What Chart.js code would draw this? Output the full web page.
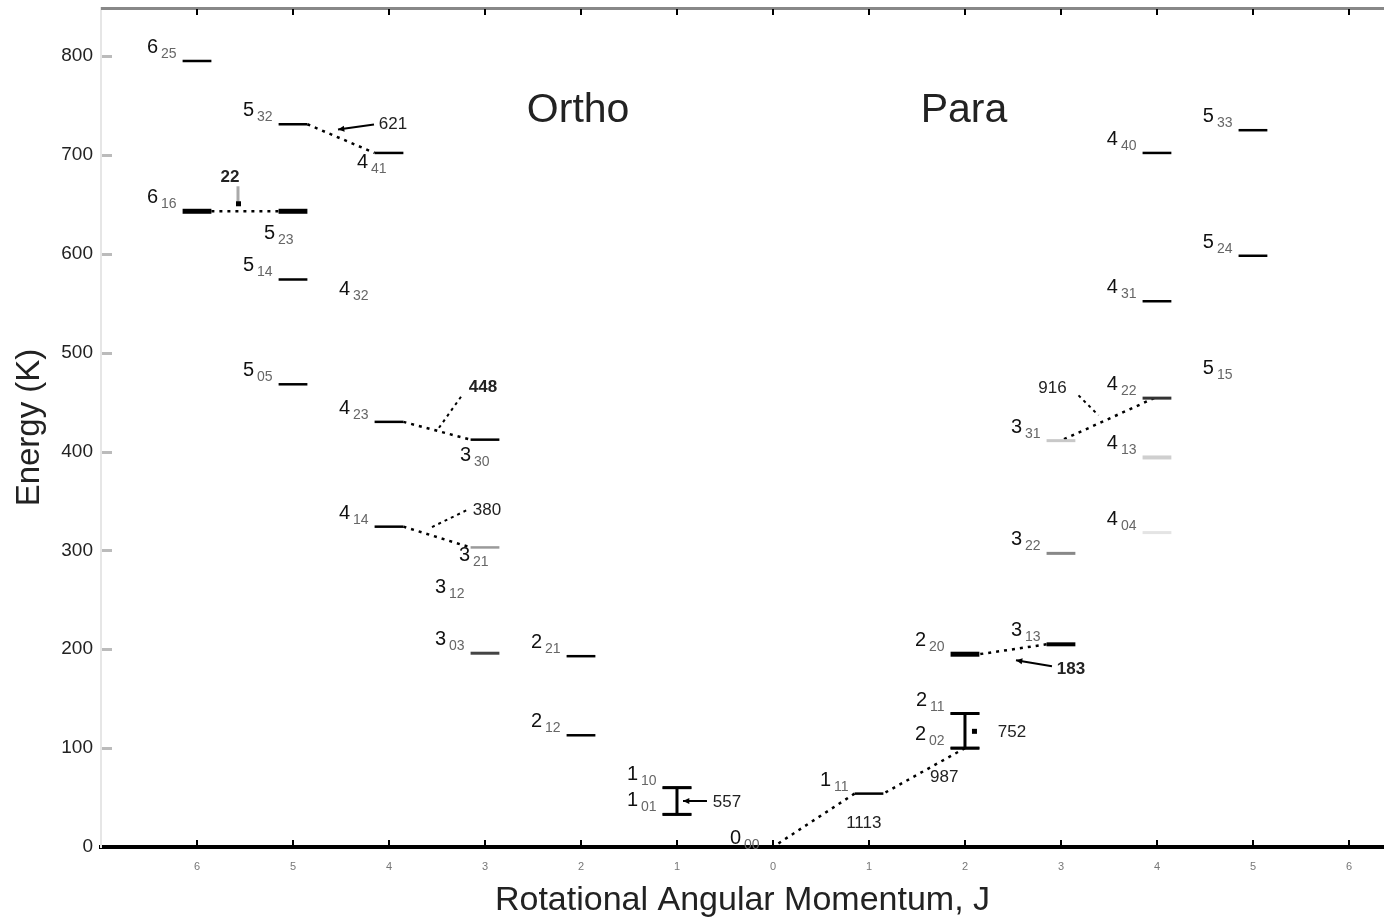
<!DOCTYPE html>
<html>
<head>
<meta charset="utf-8">
<script src="https://cdn.jsdelivr.net/npm/chart.js@4.4.1/dist/chart.umd.min.js"></script>
<style>
  html, body { margin: 0; padding: 0; background: #fff; }
  #wrap { width: 1384px; height: 918px; }
</style>
</head>
<body>
<div id="wrap"><canvas id="levels" width="1384" height="918"></canvas></div>
<script>
// rotational levels J_KaKc and their energy in K
const orthoLevels = ['1_01', '1_10', '2_12', '2_21', '3_03', '3_12', '3_21', '3_30', '4_14',
                     '4_23', '4_32', '4_41', '5_05', '5_14', '5_23', '5_32', '6_16', '6_25'];
const orthoEnergy = [33, 60, 113, 193, 196, 249, 303, 412, 324, 430, 550, 702, 468, 574, 643, 731, 643, 795];

const paraLevels = ['0_00', '1_11', '2_02', '2_11', '2_20', '3_13', '3_22', '3_31',
                    '4_04', '4_13', '4_22', '4_31', '4_40', '5_15', '5_24', '5_33'];
const paraEnergy = [0, 54, 100, 135, 195, 205, 297, 411, 318, 394, 454, 552, 702, 470, 598, 725];

// marked transitions (upper -> lower) with frequency in GHz
const transUpper = ['5_32', '6_16', '4_23', '4_14', '1_10', '1_11', '2_02', '2_11', '3_13', '4_22'];
const transLower = ['4_41', '5_23', '3_30', '3_21', '1_01', '0_00', '1_11', '2_02', '2_20', '3_31'];
const transFreq  = ['621', '22', '448', '380', '557', '1113', '987', '752', '183', '916'];

const energyTicks = [0, 100, 200, 300, 400, 500, 600, 700, 800];
const jTicks = [-6, -5, -4, -3, -2, -1, 0, 1, 2, 3, 4, 5, 6];

// ---- styling ----
const FONT = '"Liberation Sans", Arial, sans-serif';
const HALF = 0.15; // half length of a level bar, in J units
const hidden = ['0_00', '3_12', '4_32', '5_15'];
const lineColor = { '3_21': '#9a9a9a', '3_03': '#444', '3_22': '#888', '3_31': '#c8c8c8',
                    '4_22': '#333', '4_13': '#cfcfcf', '4_04': '#e4e4e4' };
const lineWidth = { '6_16': 5, '5_23': 5, '2_20': 5, '3_13': 4, '3_03': 3, '3_22': 3,
                    '3_31': 3, '4_13': 4, '4_04': 3, '4_22': 3 };
// label offset (px) of the label's right edge / baseline from the bar's left end
const labelShift = { '3_30': [19, 21], '3_21': [18, 14], '5_23': [15, 28], '4_41': [12, 15], '0_00': [1, -3] };

// how each transition is drawn: bar-end offsets in J units, text & leader offsets in px from the middle
const transLayout = {
  '621':  { from: HALF, to: -HALF, text: [52, -14], lead: [[-3, -9], [33, -14]], arrow: true },
  '22':   { from: HALF, to: -HALF, text: [-15, -34], bold: true, lead: [[-7, -8], [-7, -25]], color: '#aaa', width: 3, dot: true },
  '448':  { from: HALF, to: -HALF, text: [46, -43], bold: true, lead: [[2, -3], [24, -34]], dash: true },
  '380':  { from: HALF, to: -HALF, text: [50, -27], lead: [[-5, -10], [30, -27]], dash: true },
  '557':  { bracket: true, text: [50, 1], lead: [[6, 0], [30, 0]], arrow: true },
  '1113': { from: -HALF, to: 0, text: [50, 3] },
  '987':  { from: 0, to: HALF, text: [20, 6] },
  '752':  { bracket: true, text: [47, 1], dot: true, lead: [[9, 0], [9, 0]] },
  '183':  { from: -HALF, to: HALF, text: [58, 20], bold: true, lead: [[3, 11], [39, 17]], arrow: true },
  '916':  { from: -0.03, to: 0, text: [-55, -31], lead: [[-29, -24], [-9, -4]], dash: true }
};

function side(names, energies, sign) {
  return names.map((n, i) => ({ name: n, j: sign * parseInt(n[0], 10), e: energies[i] }));
}
const levels = side(orthoLevels, orthoEnergy, -1).concat(side(paraLevels, paraEnergy, 1));
const byName = {};
levels.forEach(l => { byName[l.name] = l; });

const datasets = [];
levels.forEach(l => {
  if (hidden.includes(l.name)) return;
  datasets.push({
    data: [{ x: l.j - HALF, y: l.e }, { x: l.j + HALF, y: l.e }],
    borderColor: lineColor[l.name] || '#000',
    borderWidth: lineWidth[l.name] || 2.5
  });
});

transFreq.forEach((f, i) => {
  const up = byName[transUpper[i]], lo = byName[transLower[i]], t = transLayout[f];
  if (t.bracket) {
    datasets.push({ data: [{ x: up.j, y: up.e }, { x: lo.j, y: lo.e }], borderColor: '#000', borderWidth: 3 });
    [up, lo].forEach(l => datasets.push({
      data: [{ x: l.j - HALF, y: l.e }, { x: l.j + HALF, y: l.e }], borderColor: '#000', borderWidth: 3 }));
  } else {
    datasets.push({
      data: [{ x: up.j + t.from, y: up.e }, { x: lo.j + t.to, y: lo.e }],
      borderColor: '#000', borderWidth: 2.5, borderDash: [3, 5]
    });
  }
});

datasets.forEach(d => { d.showLine = true; d.pointRadius = 0; d.fill = false; });

const extras = {
  id: 'extras',
  afterDatasetsDraw(chart) {
    const { ctx, chartArea: a } = chart;
    const sx = chart.scales.x, sy = chart.scales.y;
    ctx.save();

    // frame bits: top line, inner ticks
    ctx.fillStyle = '#888';
    ctx.fillRect(a.left, a.top - 1, a.right - a.left, 3);
    ctx.fillStyle = '#000';
    jTicks.forEach(v => {
      const px = Math.round(sx.getPixelForValue(v));
      ctx.fillRect(px - 1, a.bottom - 7, 2, 6);
      ctx.fillRect(px - 1, a.top + 1, 2, 6);
    });
    ctx.fillStyle = '#bbb';
    energyTicks.forEach(v => {
      if (v === 0) return;
      const py = Math.round(sy.getPixelForValue(v));
      ctx.fillRect(a.left + 1, py - 1, 10, 3);
    });

    // Ortho / Para headings
    ctx.fillStyle = '#222';
    ctx.font = '41px ' + FONT;
    ctx.textAlign = 'center';
    ctx.textBaseline = 'middle';
    ctx.fillText('Ortho', sx.getPixelForValue(-2.03), sy.getPixelForValue(745));
    ctx.fillText('Para', sx.getPixelForValue(1.99), sy.getPixelForValue(745));

    // level labels J with KaKc subscript
    ctx.textAlign = 'left';
    ctx.textBaseline = 'alphabetic';
    levels.forEach(l => {
      const [J, sub] = l.name.split('_');
      const shift = labelShift[l.name] || [-6, -8];
      const x0 = sx.getPixelForValue(l.j - HALF) + shift[0];
      const y0 = sy.getPixelForValue(l.e) + shift[1];
      ctx.font = '14px ' + FONT;
      const wSub = ctx.measureText(sub).width;
      ctx.font = '20px ' + FONT;
      const wJ = ctx.measureText(J).width;
      ctx.fillStyle = '#111';
      ctx.fillText(J, x0 - wSub - wJ - 3, y0);
      ctx.font = '14px ' + FONT;
      ctx.fillStyle = '#666';
      ctx.fillText(sub, x0 - wSub, y0 + 5);
    });

    // transition frequencies + leaders
    transFreq.forEach((f, i) => {
      const up = byName[transUpper[i]], lo = byName[transLower[i]], t = transLayout[f];
      let mx, my;
      if (t.bracket) {
        mx = sx.getPixelForValue(up.j);
      } else {
        mx = (sx.getPixelForValue(up.j + t.from) + sx.getPixelForValue(lo.j + t.to)) / 2;
      }
      my = (sy.getPixelForValue(up.e) + sy.getPixelForValue(lo.e)) / 2;
      if (t.lead) {
        const [p, q] = t.lead;
        ctx.strokeStyle = t.color || '#000';
        ctx.lineWidth = t.width || 2;
        ctx.setLineDash(t.dash ? [3, 4] : []);
        ctx.beginPath();
        ctx.moveTo(mx + p[0], my + p[1]);
        ctx.lineTo(mx + q[0], my + q[1]);
        ctx.stroke();
        ctx.setLineDash([]);
        ctx.fillStyle = '#000';
        if (t.dot) ctx.fillRect(mx + p[0] - 2, my + p[1] - 2, 5, 5);
        if (t.arrow) {
          const ang = Math.atan2(p[1] - q[1], p[0] - q[0]);
          ctx.beginPath();
          ctx.moveTo(mx + p[0], my + p[1]);
          ctx.lineTo(mx + p[0] - 7 * Math.cos(ang - 0.45), my + p[1] - 7 * Math.sin(ang - 0.45));
          ctx.lineTo(mx + p[0] - 7 * Math.cos(ang + 0.45), my + p[1] - 7 * Math.sin(ang + 0.45));
          ctx.closePath();
          ctx.fill();
        }
      }
      ctx.fillStyle = '#222';
      ctx.font = (t.bold ? 'bold ' : '') + '17px ' + FONT;
      ctx.textAlign = 'center';
      ctx.textBaseline = 'middle';
      ctx.fillText(f, mx + t.text[0], my + t.text[1]);
      ctx.textAlign = 'left';
      ctx.textBaseline = 'alphabetic';
    });

    ctx.restore();
  }
};

new Chart(document.getElementById('levels'), {
  type: 'scatter',
  data: { datasets: datasets },
  options: {
    responsive: false,
    animation: false,
    devicePixelRatio: 1,
    layout: { padding: { top: 8, left: 0, right: 0, bottom: 0 } },
    plugins: { legend: { display: false }, tooltip: { enabled: false } },
    scales: {
      x: {
        type: 'linear',
        min: -7,
        max: 6.365,
        afterBuildTicks: axis => { axis.ticks = jTicks.map(v => ({ value: v })); },
        afterFit: axis => { axis.height = 71; axis.paddingLeft = 0; axis.paddingRight = 0; },
        grid: { display: true, drawOnChartArea: false, drawTicks: false },
        border: { display: true, color: '#000', width: 4 },
        ticks: {
          padding: 13,
          color: '#777',
          font: { size: 11, family: FONT },
          callback: v => String(Math.abs(v))
        },
        title: {
          display: true,
          text: 'Rotational Angular Momentum, J',
          color: '#222',
          font: { size: 34, family: FONT },
          padding: { top: 0, bottom: -3 }
        }
      },
      y: {
        type: 'linear',
        min: 0,
        max: 848.6,
        afterBuildTicks: axis => { axis.ticks = energyTicks.map(v => ({ value: v })); },
        afterFit: axis => { axis.width = 101; axis.paddingTop = 0; axis.paddingBottom = 0; },
        grid: { display: true, drawOnChartArea: false, drawTicks: false },
        border: { display: true, color: '#e6e6e6', width: 2 },
        ticks: {
          padding: 8,
          color: '#222',
          font: { size: 19, family: FONT }
        },
        title: {
          display: true,
          text: 'Energy (K)',
          color: '#222',
          font: { size: 33, family: FONT },
          padding: { top: 10, bottom: 0 }
        }
      }
    }
  },
  plugins: [extras]
});
</script>
</body>
</html>
